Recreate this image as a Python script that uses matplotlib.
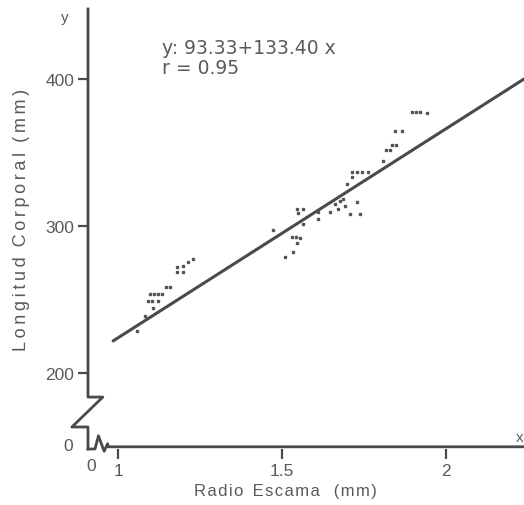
import numpy as np
import matplotlib
matplotlib.use("Agg")
import matplotlib.pyplot as plt

# scale radius (mm) vs body length (mm)
radio = [1.058, 1.082, 1.091, 1.104, 1.122, 1.098, 1.110, 1.122, 1.134, 1.107,
         1.146, 1.159, 1.180, 1.180, 1.198, 1.198, 1.213, 1.229,
         1.473, 1.509, 1.534, 1.546, 1.530, 1.543, 1.555, 1.564, 1.546, 1.564,
         1.549, 1.610, 1.610, 1.646, 1.671, 1.677, 1.686, 1.698, 1.707, 1.738,
         1.729, 1.713, 1.713, 1.729, 1.744, 1.762, 1.808, 1.817, 1.829, 1.835,
         1.848, 1.845, 1.866, 1.896, 1.909, 1.921, 1.942, 1.662, 1.692]
longitud = [228.6, 238.8, 249.0, 249.0, 249.0, 253.7, 253.7, 253.7, 253.7, 244.2,
            258.5, 258.5, 272.1, 268.7, 272.8, 268.7, 275.5, 277.6,
            297.3, 278.9, 282.3, 288.4, 292.5, 292.5, 291.8, 301.4, 311.6, 311.6,
            308.8, 309.5, 304.8, 309.5, 311.6, 317.0, 318.4, 328.6, 308.2, 308.2,
            316.3, 333.3, 336.7, 336.7, 336.7, 336.7, 344.2, 351.7, 351.7, 355.1,
            355.1, 364.6, 364.6, 377.6, 377.6, 377.6, 376.9, 315.0, 313.6]

# fitted line as drawn
recta_x = [0.985, 2.238]
recta_y = [221.8, 400.0]

xticks = [1, 1.5, 2]
xtick_labels = ["1", "1.5", "2"]
yticks = [200, 300, 400]
ytick_labels = ["200", "300", "400"]

gris = "#4a4a4a"
txt = "#5a5a5a"
plt.rcParams["font.family"] = ["Liberation Sans", "DejaVu Sans"]


def espaciado(palabras, sep="\u2009", hueco="  "):
    # letter spacing like the typewriter labels of the original
    return hueco.join(sep.join(w) for w in palabras)


fig = plt.figure(figsize=(5.24, 5.06), dpi=100)
ax = fig.add_axes([88 / 524, 56 / 506, 436 / 524, 440 / 506])
ax.set_xlim(0.9085, 2.2378)
ax.set_ylim(148.3, 447.6)

ax.plot(recta_x, recta_y, color=gris, lw=2.2, solid_capstyle="round")
ax.plot(radio, longitud, ls="none", marker="s", ms=1.6, color="#555555")

for s in ax.spines.values():
    s.set_visible(False)

# axes with the break marks
ax.plot([0, 0, 0.034, -0.037, 0, 0], [1, 0.118, 0.118, 0.05, 0.05, 0],
        transform=ax.transAxes, color=gris, lw=2, clip_on=False)
ax.plot([0, 0.016, 0.024, 0.037, 0.045, 0.046, 1], [0, 0, 0.03, -0.005, 0.012, 0.005, 0.005],
        transform=ax.transAxes, color=gris, lw=2, clip_on=False)

ax.set_xticks(xticks, xtick_labels)
ax.set_yticks(yticks, ytick_labels)
ax.tick_params(direction="out", length=7, width=1.6, color=gris,
               labelcolor=txt, labelsize=12.5, pad=3)

ax.text(-0.035, 0.007, "0", transform=ax.transAxes, ha="right", va="center",
        color=txt, fontsize=12.5)
ax.text(0.007, -0.02, "0", transform=ax.transAxes, ha="center", va="top",
        color=txt, fontsize=12.5)
fig.text(65 / 524, 1 - 18 / 506, "y", ha="center", va="center", color=txt, fontsize=11)
fig.text(520 / 524, 1 - 438 / 506, "x", ha="center", va="center", color=txt, fontsize=11)

fig.text(162 / 524, 1 - 48 / 506, "y: 93.33+133.40 x", ha="left", va="center",
         color=txt, fontsize=13.5, family=["DejaVu Sans"])
fig.text(162 / 524, 1 - 69 / 506, "r = 0.95", ha="left", va="center",
         color=txt, fontsize=13.5, family=["DejaVu Sans"])

xlabel = espaciado(["Radio", "Escama"], sep="\u200a", hueco="  ") + "   " + espaciado(["(mm)"], sep="\u200a")
fig.text(285 / 524, 1 - 492 / 506, xlabel,
         ha="center", va="center", color=txt, fontsize=12)
fig.text(22 / 524, 1 - 220 / 506, espaciado(["Longitud", "Corporal", "(mm)"]),
         ha="center", va="center", rotation=90, color=txt, fontsize=13)

fig.savefig("out.png", dpi=100, facecolor="white")
